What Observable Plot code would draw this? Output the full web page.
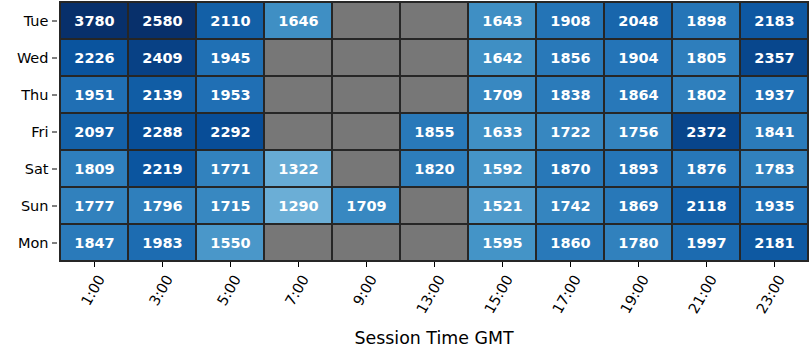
<!DOCTYPE html>
<html>
<head>
<meta charset="utf-8">
<script src="https://cdn.jsdelivr.net/npm/d3@7"></script>
<script src="https://cdn.jsdelivr.net/npm/@observablehq/plot@0.6"></script>
<style>
  html, body { margin: 0; padding: 0; background: #fff; }
  #chart svg { display: block; }
</style>
</head>
<body>
<div id="chart"></div>
<script>
const days = ["Tue", "Wed", "Thu", "Fri", "Sat", "Sun", "Mon"];
const times = ["1:00", "3:00", "5:00", "7:00", "9:00", "13:00", "15:00", "17:00", "19:00", "21:00", "23:00"];
const tue = [3780, 2580, 2110, 1646, null, null, 1643, 1908, 2048, 1898, 2183];
const wed = [2226, 2409, 1945, null, null, null, 1642, 1856, 1904, 1805, 2357];
const thu = [1951, 2139, 1953, null, null, null, 1709, 1838, 1864, 1802, 1937];
const fri = [2097, 2288, 2292, null, null, 1855, 1633, 1722, 1756, 2372, 1841];
const sat = [1809, 2219, 1771, 1322, null, 1820, 1592, 1870, 1893, 1876, 1783];
const sun = [1777, 1796, 1715, 1290, 1709, null, 1521, 1742, 1869, 2118, 1935];
const mon = [1847, 1983, 1550, null, null, null, 1595, 1860, 1780, 1997, 2181];
const rows = [tue, wed, thu, fri, sat, sun, mon];

// matplotlib "Blues" colormap stops
const bluesStops = ["#f7fbff", "#deebf7", "#c6dbef", "#9ecae1", "#6baed6", "#4292c6", "#2171b5", "#08519c", "#08306b"];
const vmin = 0, vmax = 2580;

const table = [];
days.forEach((d, i) => times.forEach((t, j) => table.push({day: d, time: t, value: rows[i][j]})));
const valued = table.filter(d => d.value != null);

const font = "DejaVu Sans, sans-serif";

const chart = Plot.plot({
  width: 810,
  height: 360,
  marginLeft: 57,
  marginRight: 0,
  marginTop: 0,
  marginBottom: 98,
  style: {fontFamily: font, fontSize: "14.5px", color: "#000", background: "#fff"},
  x: {type: "band", domain: times, padding: 0},
  y: {type: "band", domain: days, padding: 0},
  color: {
    type: "linear",
    domain: d3.range(9).map(k => vmin + (vmax - vmin) * k / 8),
    range: bluesStops,
    interpolate: "rgb",
    clamp: true
  },
  marks: [
    Plot.cell(table, {x: "time", y: "day", fill: "#777777"}),
    Plot.cell(valued, {x: "time", y: "day", fill: "value"}),
    Plot.cell(table, {x: "time", y: "day", fill: "none", stroke: "#262626", strokeWidth: 2}),
    Plot.text(valued, {x: "time", y: "day", text: d => String(d.value), fill: "white", fontWeight: "bold", fontSize: 14.5}),
    Plot.axisY({tickSize: 5, tickPadding: 4, label: null, fontSize: 14.5, stroke: "#000"}),
    Plot.axisX({tickSize: 5, tickFormat: () => "", label: null, stroke: "#000"}),
    Plot.text(times, {x: d => d, frameAnchor: "bottom", text: d => d, rotate: -60, textAnchor: "end", lineAnchor: "top", dy: 11, dx: 2, fontSize: 14.5, fill: "#000"}),
    Plot.text(["Session Time GMT"], {frameAnchor: "bottom", text: d => d, dy: 76, lineAnchor: "middle", fontSize: 17.4, fill: "#000"})
  ]
});
document.getElementById("chart").appendChild(chart);
</script>
</body>
</html>
